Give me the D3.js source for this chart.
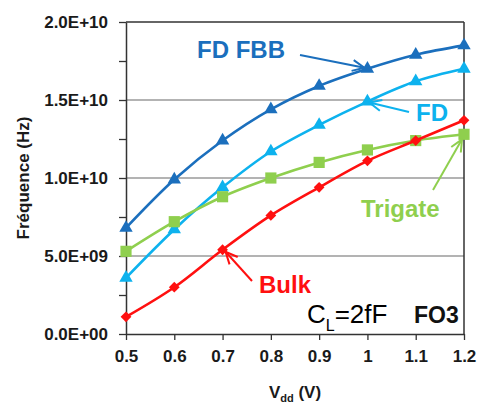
<!DOCTYPE html>
<html>
<head>
<meta charset="utf-8">
<script src="https://cdn.jsdelivr.net/npm/d3@7"></script>
<style>
  html, body { margin: 0; padding: 0; background: #fff; }
  svg { display: block; }
  text { font-family: "Liberation Sans", Arial, sans-serif; }
</style>
</head>
<body>
<svg id="chart" width="481" height="405"></svg>
<script>
// ---- data ----
const vdd = [0.5, 0.6, 0.7, 0.8, 0.9, 1.0, 1.1, 1.2];
const fdFbb = [6.8e9, 9.9e9, 12.4e9, 14.4e9, 15.9e9, 17.0e9, 17.9e9, 18.5e9];
const fd = [3.6e9, 6.7e9, 9.4e9, 11.7e9, 13.4e9, 14.9e9, 16.2e9, 17.0e9];
const trigate = [5.3e9, 7.2e9, 8.8e9, 10.0e9, 11.0e9, 11.8e9, 12.4e9, 12.8e9];
const bulk = [1.1e9, 3.0e9, 5.4e9, 7.6e9, 9.4e9, 11.1e9, 12.4e9, 13.7e9];
const xTickValues = [0.5, 0.6, 0.7, 0.8, 0.9, 1.0, 1.1, 1.2];
const xTickLabels = ["0.5", "0.6", "0.7", "0.8", "0.9", "1", "1.1", "1.2"];
const yTickValues = [0, 2.5e9, 5e9, 7.5e9, 1e10, 1.25e10, 1.5e10, 1.75e10, 2e10];
const yTickLabels = ["0.0E+00", "", "5.0E+09", "", "1.0E+10", "", "1.5E+10", "", "2.0E+10"];
const yGridValues = [5e9, 1e10, 1.5e10];
const seriesNames = ["FD FBB", "FD", "Trigate", "Bulk"];

// ---- layout ----
const svg = d3.select("#chart");
const L = 126, R = 464, T = 22, B = 334;
const x = d3.scaleLinear().domain([0.5, 1.2]).range([L, R]);
const y = d3.scaleLinear().domain([0, 2e10]).range([B, T]);

const series = [
  {name: seriesNames[0], vals: fdFbb, color: "#1b6fbd", sym: "tri"},
  {name: seriesNames[1], vals: fd, color: "#0db2ee", sym: "tri"},
  {name: seriesNames[2], vals: trigate, color: "#8fcf4e", sym: "sq"},
  {name: seriesNames[3], vals: bulk, color: "#ff1010", sym: "dia"}
];

// gridlines
svg.append("g").selectAll("line").data(yGridValues).join("line")
  .attr("x1", L).attr("x2", R)
  .attr("y1", d => y(d)).attr("y2", d => y(d))
  .attr("stroke", "#9a9a9a").attr("stroke-width", 1.3);

// frame top & right
svg.append("line").attr("x1", L).attr("x2", R).attr("y1", y(2e10)).attr("y2", y(2e10))
  .attr("stroke", "#333").attr("stroke-width", 1.5);
svg.append("line").attr("x1", R).attr("x2", R).attr("y1", T).attr("y2", B)
  .attr("stroke", "#333").attr("stroke-width", 1.5);

// axes
const yAxis = d3.axisLeft(y).tickValues(yTickValues).tickSize(7).tickSizeOuter(0)
  .tickPadding(11)
  .tickFormat((d, i) => yTickLabels[i]);
const gy = svg.append("g").attr("transform", `translate(${L},0)`).call(yAxis);
gy.select(".domain").attr("stroke", "#333").attr("stroke-width", 1.5);
gy.selectAll(".tick line").attr("stroke", "#333").attr("stroke-width", 1.3);
gy.selectAll(".tick text").attr("font-size", 17).attr("font-weight", "bold")
  .attr("fill", "#1a1a1a").attr("font-family", "'Liberation Sans', Arial, sans-serif");

const xAxis = d3.axisBottom(x).tickValues(xTickValues).tickSize(6).tickSizeOuter(0)
  .tickPadding(10)
  .tickFormat((d, i) => xTickLabels[i]);
const gx = svg.append("g").attr("transform", `translate(0,${B})`).call(xAxis);
gx.select(".domain").attr("stroke", "#333").attr("stroke-width", 1.5);
gx.selectAll(".tick line").attr("stroke", "#333").attr("stroke-width", 1.3);
gx.selectAll(".tick text").attr("font-size", 17).attr("font-weight", "bold")
  .attr("fill", "#1a1a1a").attr("font-family", "'Liberation Sans', Arial, sans-serif");

// axis titles
svg.append("text").attr("transform", "translate(29,178) rotate(-90)")
  .attr("text-anchor", "middle").style("font-size", "17px").attr("font-weight", "bold")
  .attr("fill", "#1a1a1a").text("Fréquence (Hz)");
const xt = svg.append("text").attr("x", 295).attr("y", 398).attr("text-anchor", "middle")
  .style("font-size", "17px").attr("font-weight", "bold").attr("fill", "#1a1a1a");
xt.append("tspan").text("V");
xt.append("tspan").style("font-size", "11px").attr("dy", 4).text("dd");
xt.append("tspan").attr("dy", -4).text(" (V)");

// lines & markers
const line = d3.line().x((d, i) => x(vdd[i])).y(d => y(d)).curve(d3.curveCatmullRom.alpha(0.5));
const symTri = d3.symbol().type(d3.symbolTriangle).size(78);
const symSq = d3.symbol().type(d3.symbolSquare).size(125);
const symDia = d3.symbol().type(d3.symbolSquare).size(58);

series.forEach(s => {
  svg.append("path").datum(s.vals).attr("d", line)
    .attr("fill", "none").attr("stroke", s.color).attr("stroke-width", 2.6);
  const g = svg.append("g");
  g.selectAll("path").data(s.vals).join("path")
    .attr("d", s.sym === "tri" ? symTri() : s.sym === "sq" ? symSq() : symDia())
    .attr("transform", (d, i) => `translate(${x(vdd[i])},${y(d)})` + (s.sym === "dia" ? " rotate(45)" : ""))
    .attr("fill", s.color);
});

// annotations with arrows
const defs = svg.append("defs");
function arrow(id, color) {
  defs.append("marker").attr("id", id).attr("viewBox", "0 0 14 14")
    .attr("refX", 13).attr("refY", 7).attr("markerWidth", 14).attr("markerHeight", 14)
    .attr("markerUnits", "userSpaceOnUse").attr("orient", "auto")
    .append("path").attr("d", "M1,1.5 L13,7 L1,12.5").attr("fill", "none")
    .attr("stroke", color).attr("stroke-width", 2);
}
const ann = [
  {text: seriesNames[0], color: series[0].color, tx: 197, ty: 58,
   from: [300, 55], toIdx: 5, s: 0, off: [-3, -1]},
  {text: seriesNames[1], color: series[1].color, tx: 416, ty: 121,
   from: [409, 112], toIdx: 5, s: 1, off: [2, 1]},
  {text: seriesNames[2], color: series[2].color, tx: 361, ty: 217,
   from: [433, 190], toIdx: 7, s: 2, off: [-2, 5]},
  {text: seriesNames[3], color: series[3].color, tx: 259, ty: 293,
   from: [252, 281], toIdx: 2, s: 3, off: [3, 2]}
];
ann.forEach((a, k) => {
  arrow("arr" + k, a.color);
  svg.append("line").attr("x1", a.from[0]).attr("y1", a.from[1])
    .attr("x2", x(vdd[a.toIdx]) + a.off[0]).attr("y2", y(series[a.s].vals[a.toIdx]) + a.off[1])
    .attr("stroke", a.color).attr("stroke-width", 2).attr("marker-end", `url(#arr${k})`);
  svg.append("text").attr("x", a.tx).attr("y", a.ty)
    .style("font-size", "24px").attr("font-weight", "bold").attr("fill", a.color).text(a.text);
});

// CL label
const cl = svg.append("text").attr("x", 307).attr("y", 323).attr("fill", "#000");
cl.append("tspan").style("font-size", "26px").text("C");
cl.append("tspan").style("font-size", "16px").attr("dy", 8).text("L");
cl.append("tspan").style("font-size", "26px").attr("dy", -8).text("=2fF");
svg.append("text").attr("x", 414).attr("y", 323).style("font-size", "23px").attr("font-weight", "bold")
  .attr("fill", "#111").text("FO3");
</script>
</body>
</html>
